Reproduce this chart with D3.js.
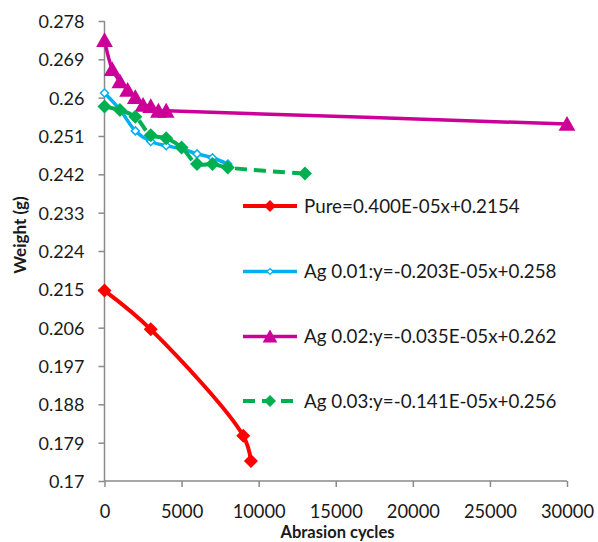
<!DOCTYPE html>
<html>
<head>
<meta charset="utf-8">
<script src="https://cdn.jsdelivr.net/npm/d3@7"></script>
<style>
  html, body { margin: 0; padding: 0; background: #ffffff; }
  svg { display: block; }
  text { font-family: Lato, "Open Sans", sans-serif; fill: #1a1a1a; }
</style>
</head>
<body>
<div id="chart"></div>
<script>
// ---- data ----
const pureX   = [0, 3000, 9000, 9500];
const pureY   = [0.2147, 0.2056, 0.1806, 0.1747];

const ag001X  = [0, 1000, 2000, 3000, 4000, 5000, 6000, 7000, 8000];
const ag001Y  = [0.2611, 0.2572, 0.2522, 0.2497, 0.2487, 0.2480, 0.2468, 0.2459, 0.2444];

const ag002X  = [0, 500, 1000, 1500, 2000, 2500, 3000, 3500, 4000, 30000];
const ag002Y  = [0.2735, 0.2667, 0.2638, 0.2618, 0.2601, 0.2583, 0.2580, 0.2569, 0.2569, 0.2538];

const ag003X  = [0, 1000, 2000, 3000, 4000, 5000, 6000, 7000, 8000, 13000];
const ag003Y  = [0.2579, 0.2571, 0.2555, 0.2512, 0.2505, 0.2483, 0.2444, 0.2444, 0.2436, 0.2422];

const seriesNames = [
  "Pure=0.400E-05x+0.2154",
  "Ag 0.01:y=-0.203E-05x+0.258",
  "Ag 0.02:y=-0.035E-05x+0.262",
  "Ag 0.03:y=-0.141E-05x+0.256"
];
const seriesColors = ["#FF0000", "#00B0F0", "#CC0099", "#00B050"];

const xTicks = [0, 5000, 10000, 15000, 20000, 25000, 30000];
const xTickLabels = ["0", "5000", "10000", "15000", "20000", "25000", "30000"];
const yTicks = [0.17, 0.179, 0.188, 0.197, 0.206, 0.215, 0.224, 0.233, 0.242, 0.251, 0.26, 0.269, 0.278];
const yTickLabels = ["0.17", "0.179", "0.188", "0.197", "0.206", "0.215", "0.224", "0.233", "0.242", "0.251", "0.26", "0.269", "0.278"];

const xTitle = "Abrasion cycles";
const yTitle = "Weight (g)";

// ---- layout ----
const W = 598, H = 542;
const plot = { left: 104.5, right: 567, top: 21, bottom: 481 };

const svg = d3.select("#chart").append("svg").attr("width", W).attr("height", H);

const x = d3.scaleLinear().domain([0, 30000]).range([plot.left, plot.right]);
const y = d3.scaleLinear().domain([0.17, 0.278]).range([plot.bottom, plot.top]);

const axisColor = "#8a8a8a";

// axes
const xAxis = d3.axisBottom(x).tickValues(xTicks).tickSize(6)
  .tickFormat((d, i) => xTickLabels[i]);
const gx = svg.append("g").attr("transform", `translate(0,${plot.bottom})`).call(xAxis);
gx.select(".domain").attr("stroke", axisColor).attr("stroke-width", 1.5);
gx.selectAll(".tick line").attr("stroke", axisColor).attr("stroke-width", 1.5);
gx.selectAll(".tick text").attr("font-size", 18.3).attr("dy", 0).attr("y", 37)
  .attr("font-family", "Lato, sans-serif").attr("fill", "#1a1a1a");

const yAxis = d3.axisLeft(y).tickValues(yTicks).tickSize(6)
  .tickFormat((d, i) => yTickLabels[i]);
const gy = svg.append("g").attr("transform", `translate(${plot.left},0)`).call(yAxis);
gy.select(".domain").attr("stroke", axisColor).attr("stroke-width", 1.5);
gy.selectAll(".tick line").attr("stroke", axisColor).attr("stroke-width", 1.5);
gy.selectAll(".tick text").attr("font-size", 18).attr("x", -20).attr("dy", "0.36em")
  .attr("font-family", "Lato, sans-serif").attr("fill", "#1a1a1a");
gx.selectAll(".domain").attr("d", `M${plot.left},0H${plot.right}`);
gy.selectAll(".domain").attr("d", `M0,${plot.top}V${plot.bottom}`);

// titles
svg.append("text").attr("x", 337.5).attr("y", 537.5).attr("text-anchor", "middle")
  .attr("font-weight", "bold").attr("font-size", 16.5).text(xTitle);
svg.append("text").attr("transform", "translate(25.5,235) rotate(-90)")
  .attr("text-anchor", "middle").attr("font-weight", "bold").attr("font-size", 17).text(yTitle);

// marker helpers
function diamond(s) { return `M0,${-s}L${s},0L0,${s}L${-s},0Z`; }
function triangle(s) { return `M0,${-s}L${s * 1.05},${s * 0.85}L${-s * 1.05},${s * 0.85}Z`; }

const series = [
  { xs: pureX,  ys: pureY,  color: seriesColors[0], width: 4,   dash: null,   marker: "diamond", size: 7,   fill: seriesColors[0] },
  { xs: ag001X, ys: ag001Y, color: seriesColors[1], width: 3.5, dash: null,   marker: "diamond", size: 4,   fill: "#ffffff" },
  { xs: ag002X, ys: ag002Y, color: seriesColors[2], width: 3.5, dash: null,   marker: "triangle", size: 8,  fill: seriesColors[2] },
  { xs: ag003X, ys: ag003Y, color: seriesColors[3], width: 4,   dash: "12,7", marker: "diamond", size: 7,   fill: seriesColors[3] }
];

const line = d3.line().x(d => x(d[0])).y(d => y(d[1])).curve(d3.curveCatmullRom.alpha(0.5));

series.forEach(s => {
  const pts = s.xs.map((v, i) => [v, s.ys[i]]);
  const g = svg.append("g");
  g.append("path").datum(pts).attr("d", line)
    .attr("fill", "none").attr("stroke", s.color).attr("stroke-width", s.width)
    .attr("stroke-dasharray", s.dash).attr("stroke-linejoin", "round");
  g.selectAll("path.m").data(pts).enter().append("path").attr("class", "m")
    .attr("transform", d => `translate(${x(d[0])},${y(d[1])})`)
    .attr("d", s.marker === "diamond" ? diamond(s.size) : triangle(s.size))
    .attr("fill", s.fill).attr("stroke", s.color).attr("stroke-width", s.fill === "#ffffff" ? 1.5 : 0);
});

// legend
const legendRows = [206, 271.5, 336.5, 401];
series.forEach((s, i) => {
  const g = svg.append("g").attr("transform", `translate(0,${legendRows[i]})`);
  g.append("line").attr("x1", 243).attr("x2", 297).attr("y1", 0).attr("y2", 0)
    .attr("stroke", s.color).attr("stroke-width", s.width).attr("stroke-dasharray", s.dash);
  const ms = i === 1 ? 3 : (s.marker === "triangle" ? 7 : 6);
  g.append("path").attr("transform", "translate(270,0)")
    .attr("d", s.marker === "diamond" ? diamond(ms) : triangle(ms))
    .attr("fill", s.fill).attr("stroke", s.color).attr("stroke-width", s.fill === "#ffffff" ? 1.2 : 0);
  g.append("text").attr("x", 304).attr("y", 0).attr("dy", "0.36em")
    .attr("font-size", 18.8).text(seriesNames[i]);
});
</script>
</body>
</html>
